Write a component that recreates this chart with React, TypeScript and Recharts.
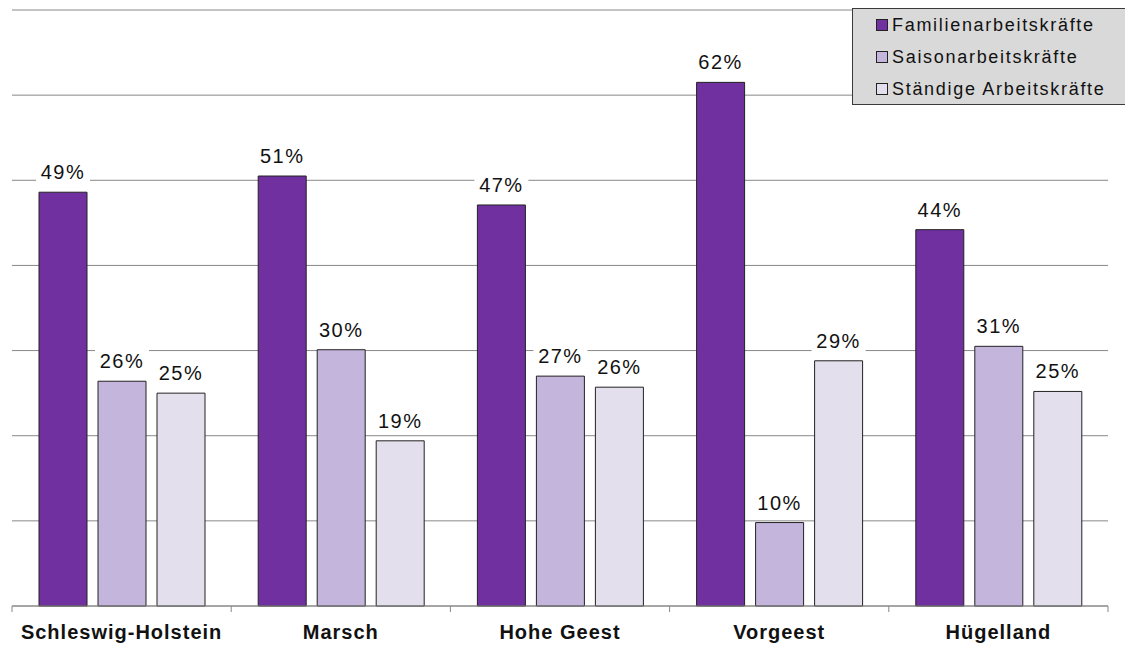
import React from 'react';
import { BarChart, Bar, XAxis, YAxis, CartesianGrid, Legend, LabelList } from 'recharts';

const categories = ['Schleswig-Holstein', 'Marsch', 'Hohe Geest', 'Vorgeest', 'Hügelland'];
const familien = [48.6, 50.5, 47.1, 61.5, 44.2];
const saison = [26.4, 30.1, 27.0, 9.8, 30.5];
const staendige = [25.0, 19.4, 25.7, 28.8, 25.2];
const seriesNames = ['Familienarbeitskräfte', 'Saisonarbeitskräfte', 'Ständige Arbeitskräfte'];
const seriesColors = ['#7030A0', '#C4B5DC', '#E4DFEC'];
const yTicks = [0, 10, 20, 30, 40, 50, 60, 70];

const data = categories.map((c, i) => ({
  name: c,
  fam: familien[i],
  sai: saison[i],
  sta: staendige[i],
}));

const ValueLabel = (props: any) => {
  const { x, y, width, value } = props;
  const cx = x + width / 2;
  const ty = y - 13;
  return (
    <g>
      <rect x={cx - 27} y={ty - 20} width={54} height={26} fill="#fff" />
      <text
        x={cx}
        y={ty}
        textAnchor="middle"
        fontFamily="Arial, 'Liberation Sans', sans-serif"
        fontSize={20}
        letterSpacing={1.5}
        fill="#111"
      >
        {Math.round(value) + '%'}
      </text>
    </g>
  );
};

const CatTick = (props: any) => {
  const { x, y, payload, index } = props;
  const half = payload.offset || 0;
  const isLast = index === categories.length - 1;
  return (
    <g>
      <line x1={x - half} x2={x - half} y1={y - 8} y2={y - 2} stroke="#888" />
      {isLast && <line x1={x + half} x2={x + half} y1={y - 8} y2={y - 2} stroke="#888" />}
      <text
        x={x}
        y={y + 25}
        textAnchor="middle"
        fontFamily="Arial, 'Liberation Sans', sans-serif"
        fontWeight="bold"
        fontSize={20}
        letterSpacing={1}
        fill="#111"
      >
        {payload.value}
      </text>
    </g>
  );
};

const LegendBox = () => (
  <div
    style={{
      background: '#D9D9D9',
      border: '1px solid #3a3a3a',
      boxSizing: 'border-box',
      width: 274,
      height: 97,
      padding: '0 0 0 23px',
      fontFamily: "Arial, 'Liberation Sans', sans-serif",
      fontSize: 18,
      letterSpacing: 1.7,
      color: '#111',
    }}
  >
    {seriesNames.map((n, i) => (
      <div key={n} style={{ display: 'flex', alignItems: 'center', height: 32 }}>
        <span
          style={{
            display: 'inline-block',
            width: 10,
            height: 10,
            background: seriesColors[i],
            border: '1px solid #222',
            marginRight: 4,
          }}
        />
        <span>{n}</span>
      </div>
    ))}
  </div>
);

export default function App() {
  return (
    <div style={{ position: 'absolute', left: 0, top: 0, background: '#fff' }}>
      <BarChart
        width={1125}
        height={648}
        data={data}
        margin={{ top: 10, right: 17, left: 12, bottom: 6 }}
        barCategoryGap={27}
        barGap={11}
      >
        <CartesianGrid horizontal vertical={false} stroke="#888" strokeWidth={1} />
        <YAxis hide domain={[0, 70]} ticks={yTicks} />
        <XAxis
          dataKey="name"
          height={36}
          axisLine={{ stroke: '#888' }}
          tickLine={false}
          tick={<CatTick />}
          interval={0}
        />
        <Legend
          layout="horizontal"
          verticalAlign="middle"
          align="center"
          content={<LegendBox />}
          wrapperStyle={{ top: 8, left: 852, width: 274, height: 97 }}
        />
        <Bar dataKey="fam" name={seriesNames[0]} fill={seriesColors[0]} stroke="#222" strokeWidth={1} isAnimationActive={false}>
          <LabelList dataKey="fam" content={<ValueLabel />} />
        </Bar>
        <Bar dataKey="sai" name={seriesNames[1]} fill={seriesColors[1]} stroke="#222" strokeWidth={1} isAnimationActive={false}>
          <LabelList dataKey="sai" content={<ValueLabel />} />
        </Bar>
        <Bar dataKey="sta" name={seriesNames[2]} fill={seriesColors[2]} stroke="#222" strokeWidth={1} isAnimationActive={false}>
          <LabelList dataKey="sta" content={<ValueLabel />} />
        </Bar>
      </BarChart>
    </div>
  );
}
